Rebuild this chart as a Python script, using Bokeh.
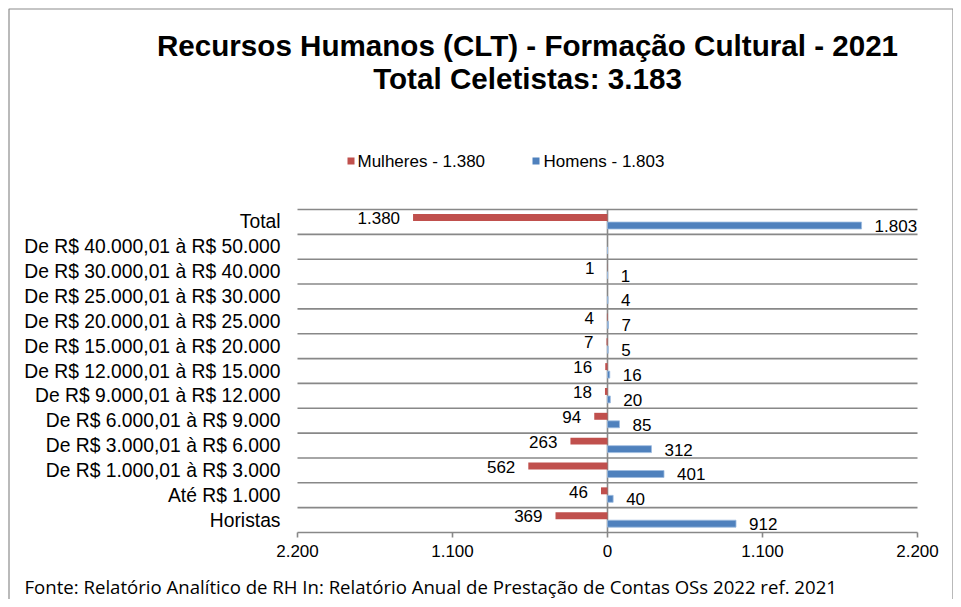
from bokeh.plotting import figure
from bokeh.models import ColumnDataSource, Range1d
from bokeh.core.properties import value
from bokeh.embed import file_html
from bokeh.resources import INLINE

# ---------------- data ----------------
categories = [
    "Total",
    "De R$ 40.000,01 à R$ 50.000",
    "De R$ 30.000,01 à R$ 40.000",
    "De R$ 25.000,01 à R$ 30.000",
    "De R$ 20.000,01 à R$ 25.000",
    "De R$ 15.000,01 à R$ 20.000",
    "De R$ 12.000,01 à R$ 15.000",
    "De R$ 9.000,01 à R$ 12.000",
    "De R$ 6.000,01 à R$ 9.000",
    "De R$ 3.000,01 à R$ 6.000",
    "De R$ 1.000,01 à R$ 3.000",
    "Até R$ 1.000",
    "Horistas",
]
mulheres = [1380, 0, 1, 0, 4, 7, 16, 18, 94, 263, 562, 46, 369]
homens = [1803, 0, 1, 4, 7, 5, 16, 20, 85, 312, 401, 40, 912]
x_ticks = [-2200, -1100, 0, 1100, 2200]
title_lines = ["Recursos Humanos (CLT) - Formação Cultural - 2021", "Total Celetistas: 3.183"]
legend_labels = ["Mulheres - 1.380", "Homens - 1.803"]
source_note = "Fonte: Relatório Analítico de RH In: Relatório Anual de Prestação de Contas OSs 2022 ref. 2021"

# ---------------- style / layout ----------------
RED = "#C0504D"
BLUE = "#4F81BD"
GRID = "#888888"
FRAME = "#8c8c8c"
FONT = "Liberation Sans"

W, H = 953, 599
PLOT_L, PLOT_R, PLOT_T, PLOT_B = 297, 917, 209, 532

n = len(categories)
rows = [n - 1 - i for i in range(n)]          # Total on top
row_h = (PLOT_B - PLOT_T) / n
ppu = (PLOT_R - PLOT_L) / (x_ticks[-1] - x_ticks[0])
x0 = x_ticks[0] - PLOT_L / ppu
x1 = x_ticks[-1] + (W - PLOT_R) / ppu
y_bot = -0.5
y_top = n - 0.5
y0 = y_bot - (H - PLOT_B) / row_h
y1 = y_top + PLOT_T / row_h


def px_x(px):
    return x0 + px / ppu


def px_y(py):
    return y1 - py / row_h


def fmt(v):
    return f"{abs(v):,}".replace(",", ".")


p = figure(width=W, height=H, output_backend="svg", toolbar_location=None,
           x_range=Range1d(x0, x1), y_range=Range1d(y0, y1),
           x_axis_type=None, y_axis_type=None,
           min_border=0, min_border_left=0, min_border_right=0,
           min_border_top=0, min_border_bottom=0)
p.outline_line_color = None
p.background_fill_color = "white"
p.border_fill_color = "white"
p.grid.visible = False

# outer chart border (left, top, right)
p.multi_line(xs=[[px_x(8.5), px_x(8.5), px_x(952.5), px_x(952.5)]],
             ys=[[px_y(H), px_y(8.5), px_y(8.5), px_y(H)]],
             line_color=FRAME, line_width=1.2)

# gridlines at category boundaries (top of each row) + bottom axis line
bounds = [r + 0.5 for r in rows] + [y_bot]
p.segment(x0=[x_ticks[0]] * len(bounds), x1=[x_ticks[-1]] * len(bounds),
          y0=bounds, y1=bounds, line_color=GRID, line_width=1.6)

# x tick marks + zero line
tick_len = 5 / row_h
p.segment(x0=x_ticks, x1=x_ticks, y0=[y_bot] * len(x_ticks), y1=[y_bot - tick_len] * len(x_ticks),
          line_color=GRID, line_width=1.6)
p.segment(x0=[0], x1=[0], y0=[y_bot], y1=[y_top], line_color=GRID, line_width=1.6)

# bars
bars = ColumnDataSource(dict(row=rows, m=[-v for v in mulheres], h=homens,
                             ym=[r + 0.177 for r in rows], yh=[r - 0.145 for r in rows]))
p.hbar(y="ym", left=0, right="m", height=0.28, source=bars, fill_color=RED, line_color=None)
p.hbar(y="yh", left=0, right="h", height=0.28, source=bars, fill_color=BLUE,
       line_color="#9dbbe0", line_width=0.8)

# data labels (zero values hidden)
ml = [(r, -v, fmt(v)) for r, v in zip(rows, mulheres) if v != 0]
hl = [(r, v, fmt(v)) for r, v in zip(rows, homens) if v != 0]
p.text(x=[a[1] for a in ml], y=[a[0] + 0.15 for a in ml], text=[a[2] for a in ml],
       x_offset=-13, text_align="right", text_baseline="middle",
       text_font=value(FONT), text_font_size="17px", text_color="black")
p.text(x=[a[1] for a in hl], y=[a[0] - 0.16 for a in hl], text=[a[2] for a in hl],
       x_offset=13, text_align="left", text_baseline="middle",
       text_font=value(FONT), text_font_size="17px", text_color="black")

# category labels (y axis)
p.text(x=[x_ticks[0]] * n, y=rows, text=categories, x_offset=-17,
       text_align="right", text_baseline="middle",
       text_font=value(FONT), text_font_size="19.3px", text_color="black")

# x tick labels
p.text(x=x_ticks, y=[y_bot] * len(x_ticks), text=[fmt(t) for t in x_ticks], y_offset=12,
       text_align="center", text_baseline="top",
       text_font=value(FONT), text_font_size="17px", text_color="black")

# titles
p.text(x=[px_x(527)] * 2, y=[px_y(45), px_y(78)], text=title_lines,
       text_align="center", text_baseline="middle", text_font=value(FONT),
       text_font_size="29.6px", text_font_style="bold", text_color="black")

# legend
p.rect(x=[px_x(350.5), px_x(535.5)], y=[px_y(160.5)] * 2, width=7, height=7,
       width_units="screen", height_units="screen", fill_color=[RED, BLUE], line_color=None)
p.text(x=[px_x(357), px_x(543)], y=[px_y(160.5)] * 2, text=legend_labels,
       text_align="left", text_baseline="middle", text_font=value(FONT),
       text_font_size="17px", text_color="black")

# source note
p.text(x=[px_x(24)], y=[px_y(586)], text=[source_note], text_align="left",
       text_baseline="middle", text_font=value("Open Sans"), text_font_size="18.6px",
       text_color="black")

open("out.html", "w").write(file_html(p, INLINE))
